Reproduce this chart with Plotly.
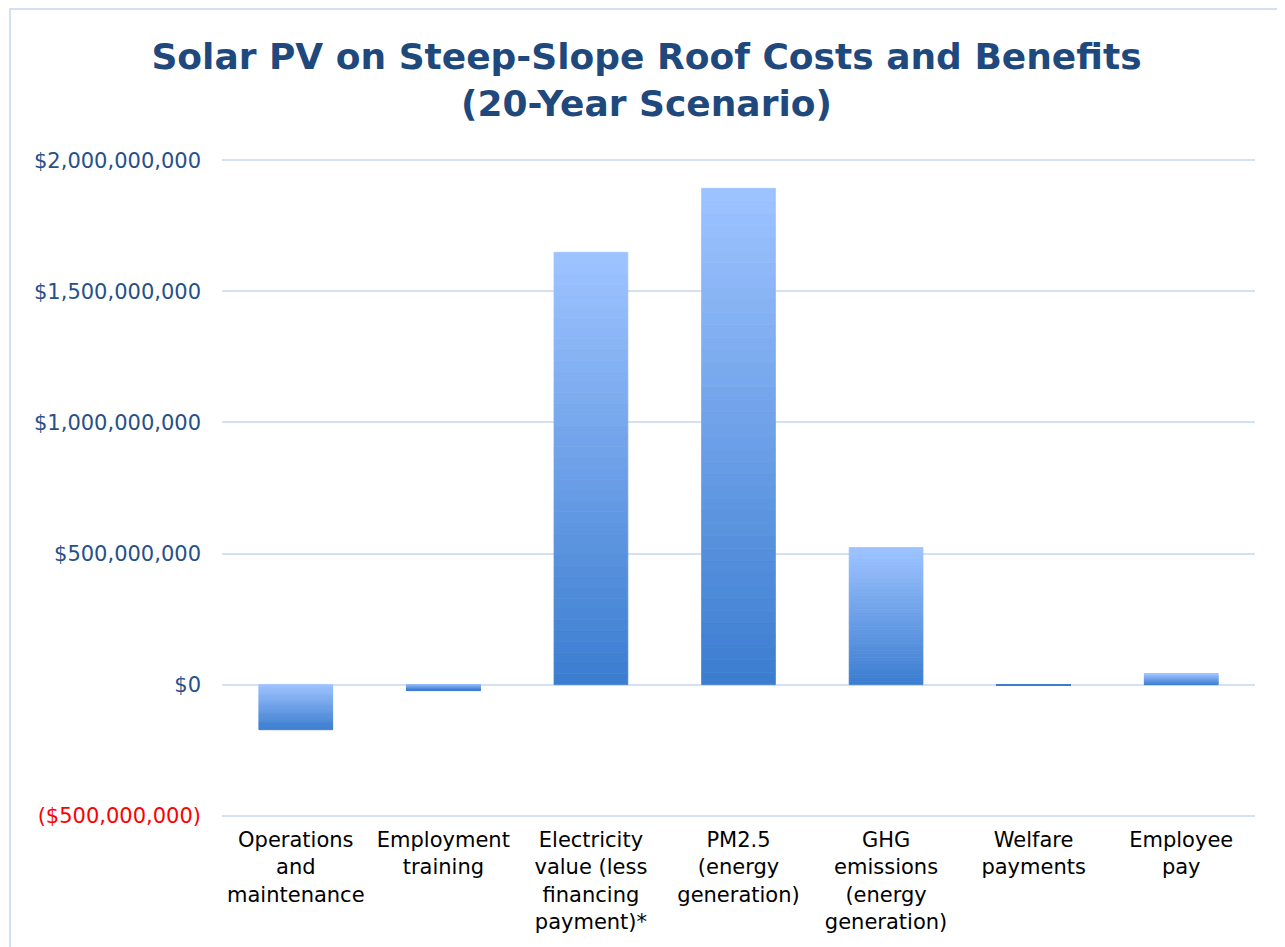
import plotly.graph_objs as go

categories = [
    'Operations<br>and<br>maintenance',
    'Employment<br>training',
    'Electricity<br>value (less<br>financing<br>payment)*',
    'PM2.5<br>(energy<br>generation)',
    'GHG<br>emissions<br>(energy<br>generation)',
    'Welfare<br>payments',
    'Employee<br>pay',
]
values = [-172e6, -23e6, 1649e6, 1893e6, 523e6, -2e6, 42e6]

tick_vals = [-500e6, 0, 500e6, 1000e6, 1500e6, 2000e6]
tick_text = [
    "<span style='color:#FF0000'>($500,000,000)</span>",
    '$0', '$500,000,000', '$1,000,000,000', '$1,500,000,000', '$2,000,000,000',
]

light = (157, 195, 255)
dark = (60, 125, 208)


def mix(t):
    # t=0 -> dark, t=1 -> light
    r, g, b = [round(d + (l - d) * t) for d, l in zip(dark, light)]
    return f'rgb({r},{g},{b})'


# bars are drawn as stacked slices so that each bar gets a vertical gradient
n_slices = 40
fig = go.Figure()
for k in range(n_slices):
    t = k / (n_slices - 1)
    colors = [mix(t) if v >= 0 else mix(1 - t) for v in values]
    fig.add_trace(go.Bar(
        x=categories,
        y=[v / n_slices for v in values],
        marker=dict(color=colors, line=dict(width=0.8, color=colors)),
        width=0.5,
        showlegend=False,
        hoverinfo='skip',
    ))

fig.update_layout(
    barmode='relative',
    width=1277, height=939,
    margin=dict(l=214, r=30, t=151, b=130),
    paper_bgcolor='white',
    plot_bgcolor='white',
    font=dict(family='DejaVu Sans', size=21, color='black'),
    title=dict(
        text='<b>Solar PV on Steep-Slope Roof Costs and Benefits<br>(20-Year Scenario)</b>',
        x=0.5, xanchor='center',
        y=0.935, yanchor='middle',
        font=dict(family='DejaVu Sans', size=36, color='#1F497D'),
    ),
    xaxis=dict(
        showgrid=False,
        showline=False,
        ticks='',
        tickangle=0,
        tickfont=dict(size=21, color='black'),
        ticklabelstandoff=8,
    ),
    yaxis=dict(
        range=[-505e6, 2005e6],
        tickvals=tick_vals,
        ticktext=tick_text,
        tickfont=dict(size=21, color='#26508A'),
        showgrid=True,
        gridcolor='#D3E1F3',
        gridwidth=2,
        zeroline=False,
        showline=False,
        ticklabelstandoff=20,
    ),
    shapes=[dict(
        type='rect', xref='paper', yref='paper',
        x0=-0.2052, x1=1.05, y0=-0.3, y1=1.228,
        line=dict(color='#D3E1F3', width=2),
        fillcolor='rgba(0,0,0,0)',
        layer='below',
    )],
)

fig.write_html("out.html")
